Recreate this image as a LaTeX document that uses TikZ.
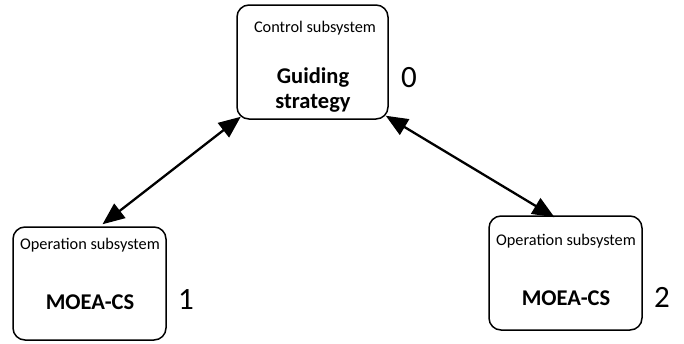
\documentclass[tikz,border=0pt]{standalone}
\usepackage{fontspec}
\setmainfont{Carlito}
\usetikzlibrary{arrows.meta,calc}
\begin{document}
\begin{tikzpicture}[x=1pt,y=-1pt,
  sysbox/.style={draw,line width=1.5pt,rounded corners=12pt,inner sep=0pt},
  boxtitle/.style={font=\fontsize{16.3}{18}\selectfont,inner sep=0pt},
  core/.style={font=\fontsize{22.5}{25}\selectfont\bfseries,inner sep=0pt,align=center},
  idx/.style={font=\fontsize{31}{34}\selectfont,inner sep=0pt},
  link/.style={line width=2.3pt,{Triangle[length=22pt,width=18pt]}-{Triangle[length=22pt,width=18pt]}}]
\useasboundingbox (0,0) rectangle (684,343);
% three subsystem boxes
\node[sysbox,minimum width=151pt,minimum height=114pt] (ctrl) at (312.5,62) {};
\node[sysbox,minimum width=153pt,minimum height=113pt] (op1) at (89.5,283.5) {};
\node[sysbox,minimum width=153pt,minimum height=114pt] (op2) at (565.5,273) {};
% box contents
\node[boxtitle] (ctrlcap) at (315,28) {Control subsystem};
\node[core] (ctrlcore) at (313,90.5) {Guiding\\strategy};
\node[boxtitle] (op1cap) at (90,245) {Operation subsystem};
\node[core] (op1core) at (90,302) {MOEA-CS};
\node[boxtitle] (op2cap) at (566,241) {Operation subsystem};
\node[core] (op2core) at (566,298) {MOEA-CS};
% indices
\node[idx] (n0) at (409,78) {0};
\node[idx] (n1) at (186,300) {1};
\node[idx] (n2) at (662,297) {2};
% bidirectional links
\draw[link] ([shift={(4.5,-3)}]ctrl.south west) -- ([shift={(13,-2)}]op1.north);
\draw[link] ([shift={(-3,-4)}]ctrl.south east) -- ([shift={(-11,2)}]op2.north);
\end{tikzpicture}
\end{document}
